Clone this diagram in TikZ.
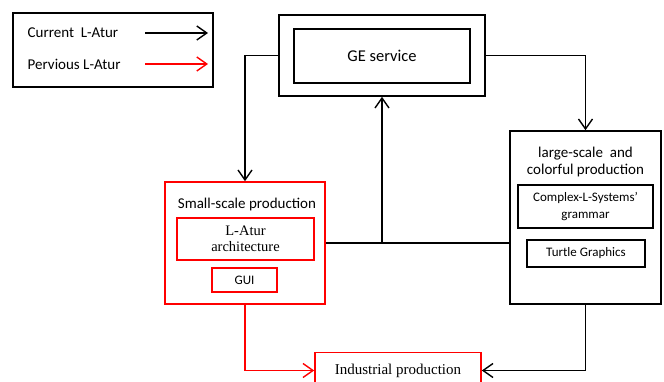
\documentclass[tikz,border=0pt]{standalone}
\usepackage{fontspec}
\setmainfont{Carlito}
\newfontfamily\timesfont{Liberation Serif}
\usepackage{tikz}
\usetikzlibrary{arrows.meta, positioning}

\begin{document}
\begin{tikzpicture}
[x=1pt, y=-1pt,
>={Straight Barb[length=10pt, width=14pt]},
line width=1.4pt,
BoxNode/.style={rectangle, draw=black, line width=1.6pt, inner sep=0pt},
OldNode/.style={rectangle, draw=red, line width=1.6pt, inner sep=0pt},
TitleNode/.style={align=center, inner sep=0pt, font=\fontsize{15}{17}\selectfont}
]
\clip (0,0) rectangle (664,382);

% legend
\node[BoxNode, minimum width=200pt, minimum height=74pt] (Legend) at (113,50) {};
\node[TitleNode, anchor=west] (CurText) at (27,33) {Current~~L-Atur};
\node[TitleNode, anchor=west] (OldText) at (27,64) {Pervious L-Atur};
\coordinate (CurA) at (145,33);
\coordinate (CurB) at (208,33);
\coordinate (OldA) at (145,64);
\coordinate (OldB) at (208,64);

% GE service
\node[BoxNode, minimum width=206pt, minimum height=81pt] (GEOuter) at (382,55.5) {};
\node[BoxNode, minimum width=176pt, minimum height=54pt,
  font=\fontsize{16.5}{20}\selectfont] (GEInner) at (382,56) {GE service};

% small-scale production
\node[OldNode, minimum width=160pt, minimum height=122pt] (Small) at (245,243) {};
\node[TitleNode] (SmallTitle) at (247,205) {Small-scale production};
\node[OldNode, minimum width=137pt, minimum height=42pt, align=center,
  font=\timesfont\fontsize{14.5}{16}\selectfont] (Latur) at (245.5,239) {L-Atur\\architecture};
\node[OldNode, minimum width=65pt, minimum height=24pt,
  font=\fontsize{13}{15}\selectfont] (GUI) at (244.5,280) {GUI};

% large-scale production
\node[BoxNode, minimum width=151pt, minimum height=173pt] (Large) at (585.5,217.5) {};
\node[TitleNode] (LargeTitle) at (585.5,162.5) {large-scale~ and\\colorful production};
\node[BoxNode, minimum width=135pt, minimum height=43pt, align=center,
  font=\fontsize{13}{17}\selectfont] (Complex) at (585.5,206.5) {Complex-L-Systems'\\grammar};
\node[BoxNode, minimum width=118pt, minimum height=27pt,
  font=\fontsize{13}{15}\selectfont] (Turtle) at (586,253.5) {Turtle Graphics};

% industrial production
\node[OldNode, minimum width=166pt, minimum height=36pt,
  font=\timesfont\fontsize{15}{17}\selectfont] (Industrial) at (398,370.5) {Industrial production};

\coordinate (Mid) at (Small.east -| GEOuter.south);

\draw[->] (CurA) -- (CurB);
\draw[->, red] (OldA) -- (OldB);

\draw[->] (GEOuter.west) -| (Small.north);
\draw[->] (GEOuter.east) -| (Large.north);
\draw (Small.east) -- (Small.east -| Large.west);
\draw[->] (Mid) -- (GEOuter.south);
\draw[->, red] (Small.south) |- (Industrial.west);
\draw[->] (Large.south) |- (Industrial.east);
\end{tikzpicture}
\end{document}
